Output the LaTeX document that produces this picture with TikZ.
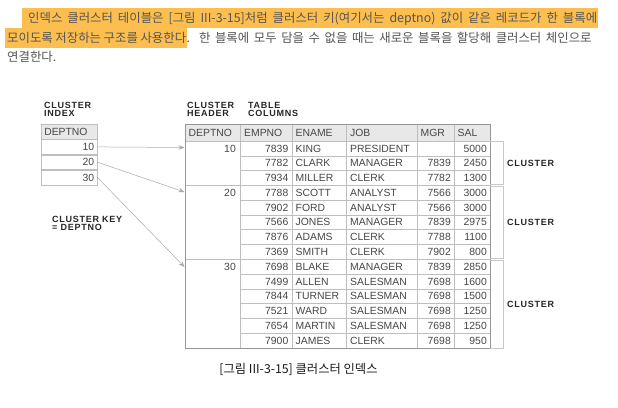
\documentclass[tikz,border=0pt]{standalone}
\usepackage{fontspec}
\setmainfont{Liberation Sans}
\newfontfamily\kr{Noto Sans CJK KR}
\newfontfamily\lbl[LetterSpace=8]{Liberation Sans}
\usetikzlibrary{arrows.meta,backgrounds,calc}
\definecolor{hl}{RGB}{252,190,78}
\definecolor{txt}{RGB}{85,85,85}
\definecolor{cellt}{RGB}{70,70,70}
\definecolor{hdrfill}{RGB}{232,232,232}
\definecolor{gridc}{RGB}{190,190,190}
\definecolor{borderc}{RGB}{150,150,150}
\definecolor{arrc}{RGB}{170,170,170}
\definecolor{brkc}{RGB}{200,200,200}
\begin{document}
\begin{tikzpicture}[x=1pt,y=-1pt,
  body/.style={font=\kr\fontsize{12.4}{14}\selectfont, text=txt, inner sep=0pt},
  cell/.style={font=\fontsize{10.4}{12}\selectfont, text=cellt, inner sep=0pt},
  lab/.style={font=\lbl\fontsize{9}{8.4}\selectfont\bfseries, text=black!85, align=left, inner sep=0pt},
  idx/.style={draw=gridc, line width=0.5pt, minimum height=14.78pt, text width=50pt, inner xsep=3pt, inner ysep=0pt, font=\fontsize{10.4}{12}\selectfont, text=cellt},
  grid/.style={draw=gridc, line width=0.5pt},
  outer/.style={draw=borderc, line width=0.6pt},
  brk/.style={draw=brkc, line width=0.6pt},
  arr/.style={draw=arrc, line width=0.5pt, -{Stealth[length=6pt,width=4.5pt,inset=2pt]}}
]
\useasboundingbox (0,0) rectangle (618,407);
\begin{scope}[on background layer]
  \fill[white] (0,0) rectangle (618,407);
\end{scope}

% paragraph
\node[body, anchor=base west] (p1) at (28,22.5) {\makebox[569pt][s]{인덱스 클러스터 테이블은 [그림 III-3-15]처럼 클러스터 키(여기서는 deptno) 값이 같은 레코드가 한 블록에}};
\node[body, anchor=base west] (p2a) at (7,42) {\makebox[179pt][s]{모이도록 저장하는 구조를 사용한다}};
\node[body, anchor=base west] (p2b) at (p2a.base east) {\makebox[405pt][s]{. 한 블록에 모두 담을 수 없을 때는 새로운 블록을 할당해 클러스터 체인으로}};
\node[body, anchor=base west] (p3) at (7,61.5) {연결한다.};
\path (0,47.5) coordinate (hbot);
\begin{scope}[on background layer]
  \fill[hl] (22,7.5) rectangle (598,28);
  \fill[hl] (5,28) rectangle ([xshift=1pt]p2a.east |- hbot);
\end{scope}

% labels
\node[lab, anchor=north west] (lci) at (44,102) {CLUSTER\\INDEX};
\node[lab, anchor=north west] (lch) at (187,102) {CLUSTER\\HEADER};
\node[lab, anchor=north west] (ltc) at (248,102) {TABLE\\COLUMNS};
\node[lab, anchor=north west] (lck) at (52,216) {CLUSTER KEY\\= DEPTNO};

% index table
\node[idx, fill=hdrfill, anchor=north west, align=left] (ih) at (41,124) {DEPTNO};
\node[idx, anchor=north west, align=right] (i10) at (ih.south west) {10};
\node[idx, anchor=north west, align=right] (i20) at (i10.south west) {20};
\node[idx, anchor=north west, align=right] (i30) at (i20.south west) {30};

% main table header
\fill[hdrfill] (185,124) rectangle (490,141);
\node[cell, anchor=base west] (hD) at (188.5,136) {DEPTNO};
\node[cell, anchor=base west] (hE) at (244,136) {EMPNO};
\node[cell, anchor=base west] (hN) at (295.5,136) {ENAME};
\node[cell, anchor=base west] (hJ) at (350,136) {JOB};
\node[cell, anchor=base west] (hM) at (420.5,136) {MGR};
\node[cell, anchor=base west] (hS) at (457.5,136) {SAL};

% grid
\foreach \xx in {240,292,346,417,454} \draw[grid] (\xx,124) -- (\xx,348);
\draw[grid] (185,141) -- (490,141);
\foreach \r in {1,2,4,5,6,7,9,10,11,12,13} \draw[grid] (240,141+\r*14.78) -- (490,141+\r*14.78);
\foreach \r in {3,8} \draw[grid] (185,141+\r*14.78) -- (490,141+\r*14.78);
\draw[outer] (185,124) rectangle (490,348);

% rows
\foreach \vA/\vB/\vC/\vD/\vE/\vF [count=\i from 0] in {
 10/7839/KING/PRESIDENT/{}/5000,
 {}/7782/CLARK/MANAGER/7839/2450,
 {}/7934/MILLER/CLERK/7782/1300,
 20/7788/SCOTT/ANALYST/7566/3000,
 {}/7902/FORD/ANALYST/7566/3000,
 {}/7566/JONES/MANAGER/7839/2975,
 {}/7876/ADAMS/CLERK/7788/1100,
 {}/7369/SMITH/CLERK/7902/800,
 30/7698/BLAKE/MANAGER/7839/2850,
 {}/7499/ALLEN/SALESMAN/7698/1600,
 {}/7844/TURNER/SALESMAN/7698/1500,
 {}/7521/WARD/SALESMAN/7698/1250,
 {}/7654/MARTIN/SALESMAN/7698/1250,
 {}/7900/JAMES/CLERK/7698/950}{
  \pgfmathsetmacro\yb{141+\i*14.78+11}
  \node[cell, anchor=base east] (d\i) at (236,\yb) {\vA};
  \node[cell, anchor=base east] (e\i) at (288.5,\yb) {\vB};
  \node[cell, anchor=base west] (n\i) at (295.5,\yb) {\vC};
  \node[cell, anchor=base west] (j\i) at (350,\yb) {\vD};
  \node[cell, anchor=base east] (m\i) at (451,\yb) {\vE};
  \node[cell, anchor=base east] (s\i) at (487,\yb) {\vF};
}

% brackets
\draw[brk] (490,141.5) -- (503,141.5) -- (503,184.5) -- (490,184.5);
\draw[brk] (490,186.5) -- (503,186.5) -- (503,258.5) -- (490,258.5);
\draw[brk] (490,260.5) -- (503,260.5) -- (503,348) -- (490,348);
\node[lab, anchor=west] (c1) at (507,163) {CLUSTER};
\node[lab, anchor=west] (c2) at (507,222) {CLUSTER};
\node[lab, anchor=west] (c3) at (507,304) {CLUSTER};

% arrows
\coordinate (t1) at (184.5,147.5);
\coordinate (t2) at (184.5,192);
\coordinate (t3) at (184.5,267);
\draw[arr] (i10.east) -- (t1);
\draw[arr] (i20.east) -- (t2);
\draw[arr] (i30.east) -- (t3);

% caption
\node[font=\kr\fontsize{12.3}{14}\selectfont, text=black!90, inner sep=0pt] (cap) at (298.5,369) {[그림 III-3-15] 클러스터 인덱스};
\end{tikzpicture}
\end{document}
